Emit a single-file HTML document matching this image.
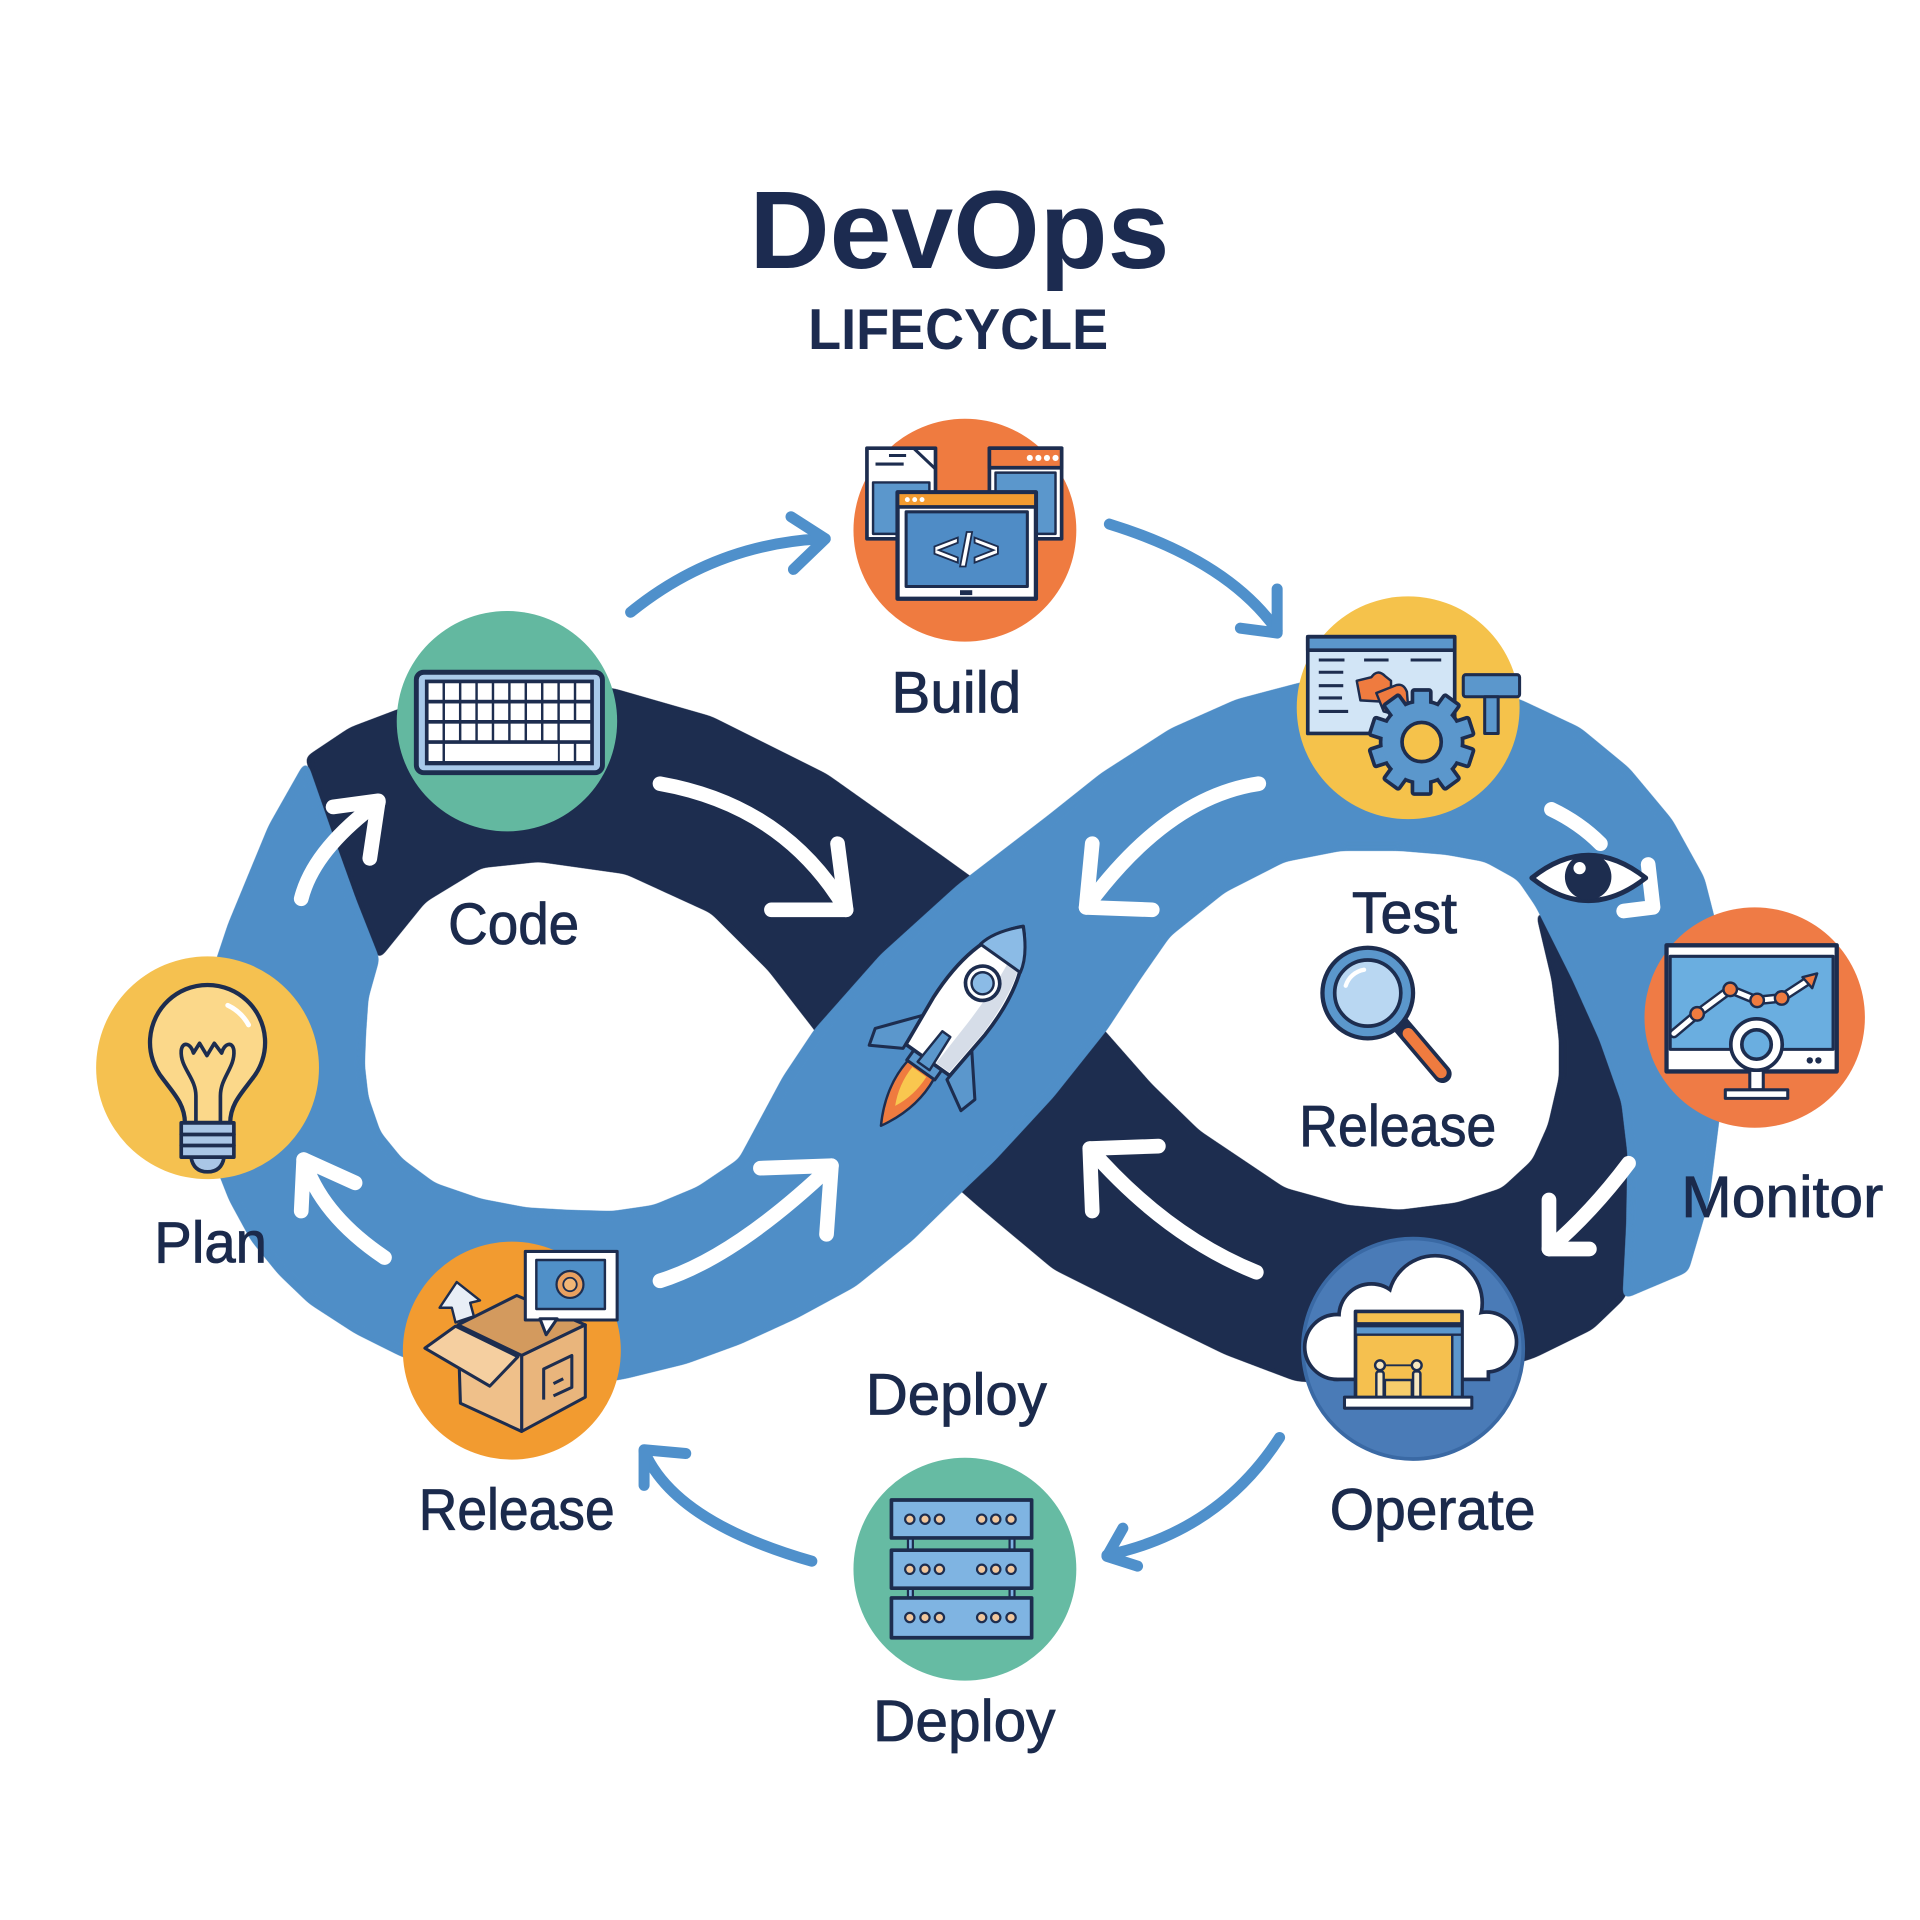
<!DOCTYPE html>
<html>
<head>
<meta charset="utf-8">
<style>
html,body{margin:0;padding:0;background:#ffffff;}
svg{display:block;}
.lbl{font-family:"Liberation Sans",Arial,sans-serif;font-size:48px;fill:#1b2a4c;stroke:#1b2a4c;stroke-width:0.7px;}
</style>
</head>
<body>
<svg width="1920" height="1920" viewBox="0 0 1568 1568" xmlns="http://www.w3.org/2000/svg">
<defs>
<filter id="sm" x="-5%" y="-5%" width="110%" height="110%" color-interpolation-filters="sRGB">
  <feGaussianBlur stdDeviation="3.5"/>
  <feComponentTransfer><feFuncA type="linear" slope="14" intercept="-6.5"/></feComponentTransfer>
</filter>
</defs>
<rect x="0" y="0" width="1568" height="1568" fill="#ffffff"/>

<!-- Title -->
<text x="612" y="219" font-family="Liberation Sans, Arial, sans-serif" font-weight="bold" font-size="90" fill="#1c2b50" textLength="343" lengthAdjust="spacingAndGlyphs">DevOps</text>
<text x="660" y="285" font-family="Liberation Sans, Arial, sans-serif" font-weight="bold" font-size="47" fill="#1c2b50" textLength="245" lengthAdjust="spacingAndGlyphs">LIFECYCLE</text>

<!-- Navy ribbon -->
<path filter="url(#sm)" fill="#1d2d4f" stroke="#1d2d4f" stroke-width="2" stroke-linejoin="round" d="M 250 619 L 286 595 L 328 579 L 420 558 L 501 563 L 581 586 L 675 633 L 768 699 L 800 722 L 850 785 L 903 844 L 940 886 L 979 924 L 1049 971 L 1100 985 L 1143 989 L 1190 983 L 1227 971 L 1252 948 L 1265 919 L 1274 880 L 1274 849 L 1268 800 L 1255 745 L 1300 770 L 1340 860 L 1345 960 L 1336 1035 L 1326 1060 L 1300 1085 L 1253 1108 L 1200 1125 L 1150 1132 L 1100 1130 L 1058 1127 L 1000 1105 L 955 1083 L 861 1036 L 800 985 L 760 950 L 700 890 L 666 841 L 628 792 L 581 745 L 511 713 L 440 703 L 393 708 L 347 736 L 309 783 Z"/>

<!-- Blue ribbon -->
<path filter="url(#sm)" fill="#4f8ec7" stroke="#4f8ec7" stroke-width="2" stroke-linejoin="round" d="M 250 622 L 220 675 L 187 755 L 172 800 L 166 849 L 168 900 L 173 942 L 188 980 L 206 1013 L 228 1040 L 253 1064 L 290 1088 L 328 1107 L 370 1122 L 420 1132 L 470 1132 L 511 1125 L 560 1113 L 604 1097 L 650 1076 L 698 1050 L 745 1012 L 790 968 L 812 947 L 860 895 L 903 841 L 930 800 L 955 764 L 1000 728 L 1049 703 L 1095 694 L 1143 694 L 1180 697 L 1213 703 L 1240 718 L 1255 740 L 1285 800 L 1307 849 L 1325 900 L 1330 942 L 1329 1000 L 1326 1060 L 1378 1038 L 1395 980 L 1405 900 L 1410 840 L 1410 802 L 1402 760 L 1391 717 L 1365 670 L 1330 628 L 1290 595 L 1241 572 L 1200 560 L 1150 555 L 1100 555 L 1063 558 L 1010 572 L 956 596 L 900 632 L 856 667 L 783 723 L 720 780 L 666 841 L 640 880 L 604 947 L 570 970 L 534 985 L 500 990 L 464 989 L 430 987 L 393 980 L 355 967 L 328 947 L 310 925 L 300 896 L 297 870 L 298 844 L 300 815 L 309 783 L 290 735 L 272 685 Z"/>

<!-- White arrows on ribbons -->
<g fill="none" stroke="#ffffff" stroke-width="12" stroke-linecap="round" stroke-linejoin="round">
  <path d="M 246 734 Q 256 694 309 655"/>
  <path d="M 272 659 L 309 654 L 302 701"/>
  <path d="M 539 640 Q 641 658 691 743"/>
  <path d="M 630 743 L 691 743 L 684 689"/>
  <path d="M 314 1027 Q 262 992 248 947"/>
  <path d="M 290 966 L 248 947 L 246 989"/>
  <path d="M 539 1046 Q 600 1027 679 952"/>
  <path d="M 621 954 L 679 952 L 675 1008"/>
  <path d="M 1028 640 Q 953 651 887 741"/>
  <path d="M 892 689 L 887 741 L 941 743"/>
  <path d="M 1267 661 Q 1290 672 1307 689"/>
  <path d="M 1346 706 L 1350 741 L 1326 744"/>
  <path d="M 1330 950 Q 1300 990 1265 1020"/>
  <path d="M 1265 980 L 1265 1020 L 1298 1020"/>
  <path d="M 1026 1039 Q 952 1009 890 938"/>
  <path d="M 892 989 L 890 938 L 946 936"/>
</g>

<!-- Blue outer arrows -->
<g fill="none" stroke="#4f90cb" stroke-width="9" stroke-linecap="round" stroke-linejoin="round">
  <path d="M 515 500 Q 584 444 672 440"/>
  <path d="M 646 422 L 674 440 L 648 465"/>
  <path d="M 906 428 Q 1003 458 1043 515"/>
  <path d="M 1013 513 L 1043 517 L 1043 481"/>
  <path d="M 1045 1174 Q 995 1251 904 1270"/>
  <path d="M 917 1248 L 904 1271 L 929 1279"/>
  <path d="M 663 1275 Q 551 1243 526 1185"/>
  <path d="M 526 1213 L 526 1184 L 560 1187"/>
</g>

<!-- Eye -->
<path d="M 1251 717 Q 1297 680 1344 717 Q 1297 754 1251 717 Z" fill="#ffffff" stroke="#1d2d4f" stroke-width="4" stroke-linejoin="round"/>
<circle cx="1297" cy="716" r="19" fill="#1d2d4f"/>
<circle cx="1290" cy="709" r="5" fill="#ffffff"/>

<!-- Rocket -->
<g transform="translate(777.5 838) rotate(35.5)" stroke="#1d2d4f" stroke-linejoin="round">
  <path d="M -13 44 Q -16 72 0 100 Q 16 72 13 44 Z" fill="#ef7b3f" stroke-width="2"/>
  <path d="M -7 46 Q -8 64 0 80 Q 8 64 7 46 Z" fill="#f9c74f" stroke="none"/>
  <path d="M -24 6 L -50 38 L -46 52 L -22 38 Z" fill="#5b97cc" stroke-width="2.5"/>
  <path d="M 24 6 L 50 38 L 46 52 L 22 38 Z" fill="#5b97cc" stroke-width="2.5"/>
  <rect x="-14" y="32" width="28" height="12" fill="#5b97cc" stroke-width="2.5"/>
  <path d="M 0 -100 C 20 -80 28 -50 26 -10 L 22 34 L -22 34 L -26 -10 C -28 -50 -20 -80 0 -100 Z" fill="#ffffff" stroke-width="3"/>
  <path d="M 0 -98 C 18 -80 25 -50 24 -10 L 20 32 L 7 32 L 9 -10 C 10 -50 8 -80 0 -98 Z" fill="#d6dde8" stroke="none"/>
  <path d="M 0 -100 C 12 -88 18 -78 20 -68 L -20 -68 C -18 -78 -12 -88 0 -100 Z" fill="#8bbbe6" stroke-width="2.5"/>
  <path d="M -4 8 L 4 8 L 6 40 L -6 40 Z" fill="#5b97cc" stroke-width="2"/>
  <circle cx="0" cy="-43" r="14" fill="#ffffff" stroke-width="3"/>
  <circle cx="0" cy="-43" r="9" fill="#8bbbe6" stroke-width="2"/>
</g>

<!-- Magnifier -->
<g stroke="#1d2d4f" stroke-linecap="round">
  <line x1="1144" y1="837" x2="1178" y2="877" stroke-width="15"/>
  <line x1="1150" y1="844" x2="1177" y2="876" stroke="#ef7b3f" stroke-width="9"/>
  <circle cx="1117" cy="811" r="37" fill="#5b97cc" stroke-width="3.5"/>
  <circle cx="1117" cy="811" r="27" fill="#b9d7f2" stroke-width="3"/>
  <path d="M 1099 805 A 19 19 0 0 1 1114 792" fill="none" stroke="#ffffff" stroke-width="3.5"/>
</g>

<!-- ===== Circles ===== -->
<!-- Build -->
<circle cx="788" cy="433" r="91" fill="#ef7b40"/>
<g stroke="#1d2d4f" stroke-linejoin="round">
  <rect x="708" y="366" width="56" height="74" fill="#ffffff" stroke-width="3"/>
  <rect x="713" y="394" width="46" height="42" fill="#5b97cc" stroke-width="2"/>
  <path d="M 746 366 L 764 383" fill="none" stroke-width="2.5"/>
  <line x1="715" y1="379" x2="738" y2="379" stroke-width="2.5"/>
  <line x1="726" y1="372" x2="740" y2="372" stroke-width="2.5"/>
  <rect x="808" y="366" width="59" height="74" fill="#ffffff" stroke-width="3"/>
  <rect x="808" y="366" width="59" height="16" fill="#ef7b40" stroke-width="3"/>
  <rect x="813" y="386" width="49" height="50" fill="#5b97cc" stroke-width="2"/>
  <rect x="733" y="402" width="113" height="87" fill="#ffffff" stroke-width="3.5"/>
  <rect x="733" y="402" width="113" height="12" fill="#f29b30" stroke-width="3"/>
  <rect x="740" y="418" width="99" height="61" fill="#4f8cc6" stroke-width="2.5"/>
  <rect x="784" y="482" width="10" height="4" fill="#1d2d4f" stroke="none"/>
</g>
<g fill="#ffffff" stroke="none">
  <circle cx="848" cy="374" r="2.5"/><circle cx="855" cy="374" r="2.5"/><circle cx="862" cy="374" r="2.5"/><circle cx="841" cy="374" r="2.5"/>
  <circle cx="741" cy="408" r="2"/><circle cx="747" cy="408" r="2"/><circle cx="753" cy="408" r="2"/>
</g>
<text x="789" y="462" text-anchor="middle" font-family="Liberation Sans, Arial, sans-serif" font-weight="bold" font-size="38" fill="#ffffff" stroke="#1d2d4f" stroke-width="1.5">&lt;/&gt;</text>

<!-- Code -->
<circle cx="414" cy="589" r="90" fill="#63b8a0"/>
<rect x="340" y="549" width="152" height="82" rx="6" fill="#a8c9ea" stroke="#1d2d4f" stroke-width="4"/>
<rect x="347" y="555" width="138" height="70" fill="#1d2d4f"/>
<g fill="#ffffff">
  <rect x="350" y="558" width="11.4" height="13.5"/><rect x="363.4" y="558" width="11.4" height="13.5"/><rect x="376.8" y="558" width="11.4" height="13.5"/><rect x="390.2" y="558" width="11.4" height="13.5"/><rect x="403.6" y="558" width="11.4" height="13.5"/><rect x="417" y="558" width="11.4" height="13.5"/><rect x="430.4" y="558" width="11.4" height="13.5"/><rect x="443.8" y="558" width="11.4" height="13.5"/><rect x="457.2" y="558" width="11.4" height="13.5"/><rect x="470.6" y="558" width="11.4" height="13.5"/>
  <rect x="350" y="574.5" width="11.4" height="13.5"/><rect x="363.4" y="574.5" width="11.4" height="13.5"/><rect x="376.8" y="574.5" width="11.4" height="13.5"/><rect x="390.2" y="574.5" width="11.4" height="13.5"/><rect x="403.6" y="574.5" width="11.4" height="13.5"/><rect x="417" y="574.5" width="11.4" height="13.5"/><rect x="430.4" y="574.5" width="11.4" height="13.5"/><rect x="443.8" y="574.5" width="11.4" height="13.5"/><rect x="457.2" y="574.5" width="11.4" height="13.5"/><rect x="470.6" y="574.5" width="11.4" height="13.5"/>
  <rect x="350" y="591" width="11.4" height="13.5"/><rect x="363.4" y="591" width="11.4" height="13.5"/><rect x="376.8" y="591" width="11.4" height="13.5"/><rect x="390.2" y="591" width="11.4" height="13.5"/><rect x="403.6" y="591" width="11.4" height="13.5"/><rect x="417" y="591" width="11.4" height="13.5"/><rect x="430.4" y="591" width="11.4" height="13.5"/><rect x="443.8" y="591" width="11.4" height="13.5"/><rect x="457.2" y="591" width="24.8" height="13.5"/>
  <rect x="350" y="607.5" width="11.4" height="14"/><rect x="363.4" y="607.5" width="92.2" height="14"/><rect x="457.2" y="607.5" width="11.4" height="14"/><rect x="470.6" y="607.5" width="11.4" height="14"/>
</g>

<!-- Test -->
<circle cx="1150" cy="578" r="91" fill="#f5c24b"/>
<g stroke="#1d2d4f" stroke-linejoin="round">
  <rect x="1068" y="520" width="120" height="79" fill="#d2e5f6" stroke-width="3"/>
  <rect x="1068" y="520" width="120" height="11" fill="#5b97cc" stroke-width="3"/>
  <g stroke-width="2.5">
    <line x1="1077" y1="539" x2="1098" y2="539"/><line x1="1114" y1="539" x2="1134" y2="539"/><line x1="1152" y1="539" x2="1177" y2="539"/>
    <line x1="1077" y1="549" x2="1097" y2="549"/><line x1="1077" y1="560" x2="1097" y2="560"/><line x1="1077" y1="570" x2="1096" y2="570"/><line x1="1077" y1="581" x2="1101" y2="581"/>
  </g>
  <path d="M 1108 556 L 1120 553 Q 1125 546 1131 552 L 1136 556 L 1136 567 L 1129 573 L 1111 572 Z" fill="#ef7b3f" stroke-width="2"/>
  <path d="M 1124 566 L 1139 560 Q 1146 557 1149 565 L 1150 578 L 1141 584 L 1130 581 Z" fill="#ef7b3f" stroke-width="2"/>
  <rect x="1195" y="551" width="46" height="18" rx="2" fill="#5b97cc" stroke-width="2.5"/>
  <rect x="1212.5" y="569" width="11" height="30" fill="#5b97cc" stroke-width="2.5"/>
</g>
<g transform="translate(1161 606)">
  <g fill="#1d2d4f" stroke="#1d2d4f" stroke-width="6" stroke-linejoin="round">
    <rect x="-6" y="-41" width="12" height="14"/>
    <rect x="-6" y="-41" width="12" height="14" transform="rotate(36)"/>
    <rect x="-6" y="-41" width="12" height="14" transform="rotate(72)"/>
    <rect x="-6" y="-41" width="12" height="14" transform="rotate(108)"/>
    <rect x="-6" y="-41" width="12" height="14" transform="rotate(144)"/>
    <rect x="-6" y="-41" width="12" height="14" transform="rotate(180)"/>
    <rect x="-6" y="-41" width="12" height="14" transform="rotate(216)"/>
    <rect x="-6" y="-41" width="12" height="14" transform="rotate(252)"/>
    <rect x="-6" y="-41" width="12" height="14" transform="rotate(288)"/>
    <rect x="-6" y="-41" width="12" height="14" transform="rotate(324)"/>
    <circle r="32"/>
  </g>
  <g fill="#5b97cc">
    <rect x="-6" y="-41" width="12" height="14"/>
    <rect x="-6" y="-41" width="12" height="14" transform="rotate(36)"/>
    <rect x="-6" y="-41" width="12" height="14" transform="rotate(72)"/>
    <rect x="-6" y="-41" width="12" height="14" transform="rotate(108)"/>
    <rect x="-6" y="-41" width="12" height="14" transform="rotate(144)"/>
    <rect x="-6" y="-41" width="12" height="14" transform="rotate(180)"/>
    <rect x="-6" y="-41" width="12" height="14" transform="rotate(216)"/>
    <rect x="-6" y="-41" width="12" height="14" transform="rotate(252)"/>
    <rect x="-6" y="-41" width="12" height="14" transform="rotate(288)"/>
    <rect x="-6" y="-41" width="12" height="14" transform="rotate(324)"/>
    <circle r="32"/>
  </g>
  <circle r="16" fill="#f5c24b" stroke="#1d2d4f" stroke-width="3"/>
</g>

<!-- Plan -->
<circle cx="169.5" cy="872" r="91" fill="#f5c150"/>
<g stroke="#1d2d4f" stroke-linejoin="round" stroke-linecap="round">
  <path d="M 151 917 C 151 902 142 893 133 881 A 47 47 0 1 1 206 881 C 197 893 188 902 188 917 Z" fill="#fbd88a" stroke-width="3.5"/>
  <path d="M 160 917 L 160 895 C 160 880 147 872 148 858 C 149 850 156 852 158 860 L 163 852 L 169 862 L 175 852 L 181 860 C 183 852 190 850 191 858 C 192 872 180 880 180 895 L 180 917" fill="none" stroke-width="3"/>
  <path d="M 186 821 A 38 38 0 0 1 203 837" fill="none" stroke="#ffffff" stroke-width="4"/>
  <path d="M 156 945 L 183 945 Q 181 957 169.5 957 Q 158 957 156 945 Z" fill="#a9c6e6" stroke-width="3"/>
  <rect x="148" y="917" width="43" height="28" fill="#a9c6e6" stroke-width="3"/>
  <line x1="148" y1="926.5" x2="191" y2="926.5" stroke-width="3"/>
  <line x1="148" y1="935.5" x2="191" y2="935.5" stroke-width="3"/>
</g>

<!-- Monitor -->
<circle cx="1433" cy="831" r="90" fill="#ef7b45"/>
<g stroke="#1d2d4f" stroke-linejoin="round">
  <rect x="1361" y="772" width="139" height="103" fill="#ffffff" stroke-width="3.5"/>
  <rect x="1364" y="781" width="133" height="76" fill="#6aaee0" stroke-width="2.5"/>
  <polyline points="1367,844 1386,828 1413,808 1435,817 1455,815 1478,800" fill="none" stroke-width="8" stroke-linecap="round"/>
  <polyline points="1367,844 1386,828 1413,808 1435,817 1455,815 1478,800" fill="none" stroke="#ffffff" stroke-width="4" stroke-linecap="round"/>
  <circle cx="1386" cy="828" r="5.5" fill="#ef7b3f" stroke-width="2"/>
  <circle cx="1413" cy="808" r="5.5" fill="#ef7b3f" stroke-width="2"/>
  <circle cx="1435" cy="817" r="5.5" fill="#ef7b3f" stroke-width="2"/>
  <circle cx="1455" cy="815" r="5.5" fill="#ef7b3f" stroke-width="2"/>
  <path d="M 1472 798 L 1484 795 L 1480 807 Z" fill="#ef7b3f" stroke-width="2"/>
  <rect x="1429" y="874" width="11" height="16" fill="#ffffff" stroke-width="2.5"/>
  <rect x="1409" y="890" width="51" height="7" fill="#ffffff" stroke-width="2.5"/>
  <circle cx="1434.5" cy="853" r="21" fill="#ffffff" stroke-width="3"/>
  <circle cx="1434.5" cy="853" r="12" fill="#6aaee0" stroke-width="3"/>
</g>
<circle cx="1478" cy="866" r="2.6" fill="#1d2d4f"/>
<circle cx="1485" cy="866" r="2.6" fill="#1d2d4f"/>

<!-- Release -->
<circle cx="418" cy="1103" r="89" fill="#f29b30"/>
<g stroke="#1d2d4f" stroke-width="2.5" stroke-linejoin="round">
  <polygon points="374,1082 422,1058 478,1082 426,1107" fill="#d39a5e"/>
  <polygon points="426,1107 478,1082 478,1141 426,1169" fill="#e9b57c"/>
  <polygon points="374,1083 426,1107 426,1169 376,1146" fill="#efc08a"/>
  <polygon points="347,1101 372,1083 423,1108 400,1132" fill="#f5cfa0"/>
  <path d="M 444 1143 L 444 1118 L 467 1107 L 467 1133 L 452 1140 M 452 1130 L 460 1126" fill="none"/>
  <polygon points="373,1047 392,1062 384,1064 387,1075 372,1080 369,1068 359,1068" fill="#e8eef6" stroke-width="2"/>
  <rect x="429" y="1022" width="75" height="56" fill="#ffffff"/>
  <polygon points="441,1077 446,1090 455,1077" fill="#ffffff"/>
  <rect x="438" y="1029" width="56" height="40" fill="#5090c8" stroke-width="2"/>
  <circle cx="465.5" cy="1049" r="11" fill="#e9a060" stroke-width="1.8"/>
  <circle cx="465.5" cy="1049" r="5.5" fill="#f2b676" stroke-width="1.5"/>
</g>

<!-- Operate -->
<circle cx="1154" cy="1101.5" r="90" fill="#4a7bb7" stroke="#3a69a4" stroke-width="3"/>
<g fill="#1d2d4f" stroke="#1d2d4f" stroke-width="6">
  <circle cx="1092" cy="1100" r="25"/>
  <circle cx="1120" cy="1075" r="25"/>
  <circle cx="1172" cy="1064" r="37"/>
  <circle cx="1214" cy="1096" r="23"/>
  <rect x="1092" y="1090" width="122" height="35"/>
</g>
<g fill="#ffffff">
  <circle cx="1092" cy="1100" r="25"/>
  <circle cx="1120" cy="1075" r="25"/>
  <circle cx="1172" cy="1064" r="37"/>
  <circle cx="1214" cy="1096" r="23"/>
  <rect x="1092" y="1090" width="122" height="35"/>
</g>
<g stroke="#1d2d4f" stroke-linejoin="round">
  <rect x="1107" y="1071" width="87" height="75" fill="#f5c04f" stroke-width="3"/>
  <line x1="1107" y1="1081" x2="1194" y2="1081" stroke-width="2.5"/>
  <rect x="1107" y="1083" width="87" height="7" fill="#5b97cc" stroke-width="2"/>
  <rect x="1186" y="1090" width="8" height="56" fill="#5b97cc" stroke-width="2"/>
  <rect x="1131" y="1127" width="22" height="19" fill="#f7cd6c" stroke-width="2"/>
  <circle cx="1127" cy="1115" r="4" fill="#f7e7c0" stroke-width="2"/>
  <circle cx="1157" cy="1115" r="4" fill="#f7e7c0" stroke-width="2"/>
  <rect x="1124" y="1120" width="6" height="24" rx="2" fill="#f7e7c0" stroke-width="2"/>
  <rect x="1154" y="1120" width="6" height="24" rx="2" fill="#f7e7c0" stroke-width="2"/>
  <line x1="1131" y1="1115" x2="1153" y2="1115" stroke-width="1.5"/>
  <rect x="1098" y="1141" width="104" height="9" fill="#ffffff" stroke-width="2.5"/>
</g>

<!-- Deploy -->
<circle cx="788" cy="1281.5" r="91" fill="#66bba3"/>
<g stroke="#1d2d4f" stroke-linejoin="round">
  <rect x="741.5" y="1255" width="4" height="12" fill="#7fb4e2" stroke-width="1.8"/>
  <rect x="824.5" y="1255" width="4" height="12" fill="#7fb4e2" stroke-width="1.8"/>
  <rect x="741.5" y="1296" width="4" height="10" fill="#7fb4e2" stroke-width="1.8"/>
  <rect x="824.5" y="1296" width="4" height="10" fill="#7fb4e2" stroke-width="1.8"/>
  <rect x="728" y="1225" width="114.5" height="31" fill="#7fb4e2" stroke-width="3"/>
  <rect x="728" y="1266" width="114.5" height="31" fill="#7fb4e2" stroke-width="3"/>
  <rect x="728" y="1305" width="114.5" height="32.5" fill="#7fb4e2" stroke-width="3"/>
  <g fill="#f1c79d" stroke-width="1.8">
    <circle cx="743" cy="1240.7" r="3.8"/><circle cx="755.4" cy="1240.7" r="3.8"/><circle cx="767.2" cy="1240.7" r="3.8"/>
    <circle cx="801.7" cy="1240.7" r="3.8"/><circle cx="813.2" cy="1240.7" r="3.8"/><circle cx="825.7" cy="1240.7" r="3.8"/>
    <circle cx="743" cy="1281.6" r="3.8"/><circle cx="755.4" cy="1281.6" r="3.8"/><circle cx="767.2" cy="1281.6" r="3.8"/>
    <circle cx="801.7" cy="1281.6" r="3.8"/><circle cx="813.2" cy="1281.6" r="3.8"/><circle cx="825.7" cy="1281.6" r="3.8"/>
    <circle cx="743" cy="1321" r="3.8"/><circle cx="755.4" cy="1321" r="3.8"/><circle cx="767.2" cy="1321" r="3.8"/>
    <circle cx="801.7" cy="1321" r="3.8"/><circle cx="813.2" cy="1321" r="3.8"/><circle cx="825.7" cy="1321" r="3.8"/>
  </g>
</g>

<!-- Labels -->
<text class="lbl" x="728" y="582" textLength="106" lengthAdjust="spacingAndGlyphs">Build</text>
<text class="lbl" x="366" y="771" textLength="107" lengthAdjust="spacingAndGlyphs">Code</text>
<text class="lbl" x="1104" y="762" textLength="86" lengthAdjust="spacingAndGlyphs">Test</text>
<text class="lbl" x="1061" y="936" textLength="161" lengthAdjust="spacingAndGlyphs">Release</text>
<text class="lbl" x="126" y="1031" textLength="92" lengthAdjust="spacingAndGlyphs">Plan</text>
<text class="lbl" x="1373" y="994" textLength="165" lengthAdjust="spacingAndGlyphs">Monitor</text>
<text class="lbl" x="707" y="1155" textLength="148" lengthAdjust="spacingAndGlyphs">Deploy</text>
<text class="lbl" x="342" y="1249" textLength="160" lengthAdjust="spacingAndGlyphs">Release</text>
<text class="lbl" x="1086" y="1249" textLength="168" lengthAdjust="spacingAndGlyphs">Operate</text>
<text class="lbl" x="713" y="1422" textLength="149" lengthAdjust="spacingAndGlyphs">Deploy</text>
</svg>
</body>
</html>
